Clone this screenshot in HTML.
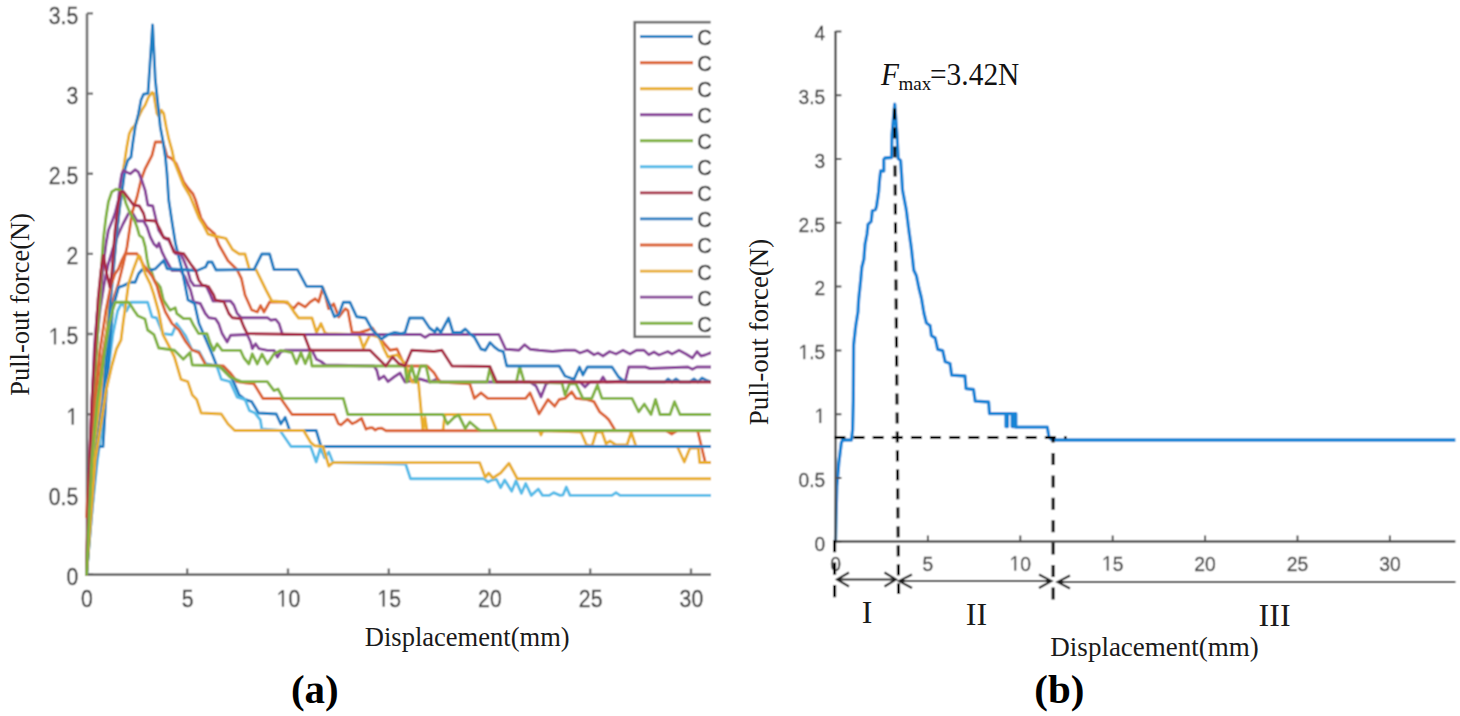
<!DOCTYPE html>
<html><head><meta charset="utf-8"><style>
html,body{margin:0;padding:0;background:#fff;}
svg{display:block;}
</style></head><body>
<svg width="1460" height="716" viewBox="0 0 1460 716">
<defs>
<filter id="soft" x="0" y="0" width="1460" height="716" filterUnits="userSpaceOnUse"><feConvolveMatrix order="3" kernelMatrix="1 2 1 2 4 2 1 2 1" divisor="16" edgeMode="duplicate" preserveAlpha="false"/></filter>
<clipPath id="clipL"><rect x="80" y="0" width="631" height="600"/></clipPath>
<clipPath id="clipLeg"><rect x="600" y="0" width="110.7" height="400"/></clipPath>
</defs>
<g filter="url(#soft)">
<rect width="1460" height="716" fill="#fff"/>
<path d="M87,13.5 V575 M86,574.6 H711" stroke="#6e6e6e" stroke-width="2.6" fill="none"/>
<path d="M87,574.5 h6 M87,494.4 h6 M87,414.2 h6 M87,334.0 h6 M87,253.9 h6 M87,173.8 h6 M87,93.6 h6 M87,13.4 h6 M86.5,574.5 v-6 M187.2,574.5 v-6 M288.0,574.5 v-6 M388.8,574.5 v-6 M489.5,574.5 v-6 M590.2,574.5 v-6 M691.0,574.5 v-6 " stroke="#6e6e6e" stroke-width="2.4" fill="none"/>
<g clip-path="url(#clipL)">
<polyline points="86.5,574.5 88.5,520.0 90.5,460.0 93.0,400.0 96.0,350.0 100.0,310.0 104.0,285.0 108.0,265.0 113.0,248.0 118.0,235.0 123.0,224.0 128.5,213.5 132.0,212.0 137.0,221.0 143.6,221.0 147.0,227.0 150.3,237.0 153.7,243.7 157.0,247.0 159.0,243.0 162.0,252.0 165.4,258.8 172.0,270.5 180.5,270.5 185.0,277.0 190.5,290.0 193.6,301.8 200.3,303.5 205.3,313.5 208.7,317.7 215.4,318.6 218.7,323.6 222.1,333.6 227.1,342.0 230.5,335.3 247.2,334.5 250.6,342.0 252.3,348.7 255.6,343.7 259.0,348.7 267.4,350.4 274.1,350.4 277.4,357.1 280.8,352.0 285.0,350.3 312.0,350.3 316.5,359.3 321.0,361.5 325.4,365.0 374.0,366.0 376.8,370.4 379.0,379.4 384.0,376.0 388.0,381.6 394.0,377.0 400.0,373.0 405.0,382.0 420.0,379.0 430.0,382.0 437.0,379.0 441.0,382.0 530.0,382.0 536.0,386.0 541.0,397.0 546.0,384.0 550.0,382.0 580.0,382.0 585.0,387.0 590.0,382.0 600.0,382.0 603.0,377.0 606.0,382.0 625.3,381.0 628.7,367.0 645.4,367.0 650.0,368.5 688.0,367.0 692.4,369.3 696.8,367.0 711.0,367.0" fill="none" stroke="#88439A" stroke-width="2.9" stroke-linejoin="round" stroke-linecap="round"/>
<polyline points="86.5,574.5 87.5,530.0 90.0,480.0 95.0,420.0 102.0,360.0 110.0,310.0 118.0,285.0 123.0,265.0 127.0,247.0 132.0,213.0 137.0,197.0 141.0,180.0 145.0,169.0 148.6,162.0 152.0,155.4 155.3,142.0 162.8,142.0 165.4,150.4 167.0,156.3 172.0,158.8 176.3,163.8 180.4,173.8 183.8,182.2 188.8,189.0 193.0,194.0 195.5,200.0 201.0,218.0 206.8,227.0 214.6,233.9 219.0,245.0 228.0,260.7 237.0,269.6 241.4,278.5 245.0,295.0 251.7,310.0 257.3,312.0 260.6,305.6 264.0,312.0 269.6,302.0 284.0,302.0 288.4,303.7 293.4,308.7 298.4,302.9 305.2,307.0 310.2,302.0 315.2,298.7 318.6,302.0 322.8,287.8 325.3,295.3 328.6,308.7 333.7,303.7 338.7,317.1 345.4,308.7 347.9,310.4 352.1,332.5 360.0,332.5 368.0,330.0 372.4,328.0 376.8,334.7 390.0,350.3 397.0,349.0 405.0,366.0 427.3,366.0 434.0,372.7 439.6,382.0 469.8,383.9 474.3,398.4 481.0,392.8 487.7,398.4 525.7,398.4 530.0,392.8 539.0,414.0 548.0,399.5 554.7,406.2 559.2,399.5 565.0,398.4 571.7,391.7 576.0,398.4 587.3,399.5 594.0,401.7 599.6,411.8 605.2,416.3 608.6,419.6 615.3,430.5 666.0,430.5 671.7,434.0 677.3,430.5 697.6,430.5 705.3,462.5 711.0,462.5" fill="none" stroke="#DC6430" stroke-width="2.9" stroke-linejoin="round" stroke-linecap="round"/>
<polyline points="86.5,574.5 91.0,500.0 96.0,440.0 101.0,390.0 106.0,340.0 111.0,290.0 115.0,250.0 118.0,220.0 121.0,195.0 122.6,173.8 124.3,163.8 126.8,147.0 129.3,133.6 131.8,128.6 135.2,125.2 138.5,116.9 141.9,110.0 145.2,105.0 148.6,96.8 152.0,92.6 153.6,93.4 157.0,113.5 158.7,116.0 161.2,110.2 163.7,113.5 166.2,127.0 168.7,138.7 172.0,150.4 174.4,162.0 183.3,184.7 190.0,196.0 194.5,207.0 199.0,218.0 203.4,225.0 208.0,234.0 214.6,236.0 225.8,238.3 232.5,249.5 239.2,254.0 245.0,254.0 249.5,269.6 256.0,269.6 266.0,290.0 271.8,301.0 287.5,302.0 294.0,312.0 298.6,318.0 312.0,318.0 316.5,332.5 321.0,323.5 325.0,333.0 327.7,333.6 359.0,334.7 363.4,348.0 370.0,334.7 379.0,337.0 383.5,348.0 388.0,357.0 397.0,354.8 405.0,363.7 412.0,382.0 418.4,382.0 422.9,430.5 425.0,417.4 427.0,430.5 443.0,430.5 445.0,414.5 490.0,414.5 496.6,430.5 539.0,430.5 541.0,435.0 543.0,430.5 581.0,432.0 586.5,445.0 592.0,446.0 596.3,432.0 602.0,432.0 606.0,443.7 610.0,441.0 616.0,445.0 627.0,445.0 631.2,432.0 636.0,446.5 677.3,446.5 684.3,462.0 690.0,448.0 698.3,448.0 699.7,462.5 711.0,462.5" fill="none" stroke="#E8AE2A" stroke-width="2.9" stroke-linejoin="round" stroke-linecap="round"/>
<polyline points="86.5,574.5 92.0,500.0 97.0,445.0 103.0,400.0 107.0,350.0 110.5,300.0 113.5,268.8 117.0,230.0 120.0,205.0 121.8,193.0 123.5,180.6 125.1,168.8 127.7,160.4 131.0,157.0 132.7,143.7 135.2,127.0 138.5,113.5 141.0,100.0 143.6,94.2 148.0,93.4 152.6,25.0 155.3,80.0 157.8,103.5 160.3,127.0 162.8,140.3 165.4,157.0 167.0,173.8 168.7,200.0 172.0,222.0 175.5,243.7 178.8,257.0 182.2,270.5 185.5,287.3 188.0,300.0 194.5,303.4 199.0,323.5 205.7,339.0 212.4,354.8 216.8,366.0 223.5,368.0 232.5,379.4 239.2,395.0 245.0,399.5 251.7,401.7 258.4,413.0 276.3,414.0 280.8,424.0 285.2,417.4 289.7,430.5 316.2,430.5 321.0,446.5 711.0,446.5" fill="none" stroke="#1A7EC2" stroke-width="2.9" stroke-linejoin="round" stroke-linecap="round"/>
<polyline points="86.5,574.5 86.9,556.0 88.0,520.0 89.5,460.0 92.0,400.0 94.5,345.0 97.4,311.0 100.0,300.0 103.4,263.8 106.0,243.7 108.4,230.3 112.6,220.0 115.0,213.5 118.4,200.0 120.1,184.0 121.8,173.8 123.5,170.5 126.8,172.2 130.2,173.8 135.2,169.7 138.5,172.2 141.9,180.6 145.2,190.6 147.8,205.0 152.8,206.0 155.4,217.0 158.7,230.3 162.0,235.3 165.4,238.7 168.8,240.3 172.0,247.0 175.5,253.7 180.5,253.7 183.8,260.4 187.2,268.8 190.5,280.6 194.0,285.6 206.2,285.9 210.4,295.0 212.9,301.0 230.5,301.0 233.8,305.0 237.2,313.5 241.4,317.7 267.4,317.7 270.7,320.2 275.7,319.4 279.1,323.6 282.5,334.5 420.6,334.5 425.0,337.4 429.6,334.5 498.9,334.5 505.6,349.2 519.0,350.3 524.5,344.7 530.0,349.2 539.0,350.3 552.5,351.5 565.0,350.3 575.0,350.3 580.0,353.0 587.3,350.3 594.0,354.8 598.0,353.0 603.0,356.0 609.7,351.5 616.0,354.0 623.0,350.3 630.0,354.0 636.5,350.3 644.0,350.3 648.8,354.8 654.0,352.0 659.0,355.0 667.8,351.5 672.0,354.0 679.0,350.3 686.0,354.0 692.4,358.0 697.0,351.5 701.0,356.0 705.0,355.0 711.0,352.6" fill="none" stroke="#88439A" stroke-width="2.9" stroke-linejoin="round" stroke-linecap="round"/>
<polyline points="86.5,574.5 88.5,520.0 90.5,470.0 93.0,420.0 96.0,360.0 98.5,320.0 100.0,300.0 101.7,263.8 103.4,238.7 106.0,216.9 108.4,201.8 111.8,191.7 116.0,189.2 120.2,190.0 123.5,195.0 126.0,203.5 130.2,213.5 134.4,220.2 137.0,227.0 139.4,235.3 142.8,237.8 145.3,247.0 147.0,258.8 148.7,267.0 151.2,270.5 154.5,280.6 157.9,284.0 160.4,287.3 163.4,300.0 170.1,310.2 175.2,307.7 176.8,313.5 183.5,318.6 190.2,318.6 193.6,325.3 198.6,333.6 207.0,333.6 210.4,343.7 213.7,350.4 217.1,343.7 222.1,350.4 240.5,350.4 244.0,358.0 248.9,364.0 252.3,353.8 257.3,364.0 262.0,354.0 267.4,364.0 274.1,353.8 280.8,350.4 292.0,352.6 296.4,363.7 300.9,352.6 305.3,363.7 309.8,352.6 312.0,366.0 405.0,366.0 407.0,382.0 411.7,366.0 416.0,382.0 420.6,366.0 426.0,366.0 429.6,382.0 487.0,382.0 490.0,367.5 494.0,382.0 516.4,382.0 519.7,366.5 524.2,382.0 562.0,383.0 565.0,395.0 569.5,383.9 576.0,383.9 582.9,398.4 591.8,398.4 597.4,385.0 601.9,398.4 632.0,398.4 638.7,411.8 644.3,404.0 651.0,414.5 655.5,399.5 660.0,414.5 670.0,414.5 674.5,401.7 680.0,414.5 711.0,414.5" fill="none" stroke="#80B240" stroke-width="2.9" stroke-linejoin="round" stroke-linecap="round"/>
<polyline points="86.5,574.5 92.0,510.0 97.4,460.0 104.0,412.0 108.6,367.0 113.0,333.6 117.6,311.0 122.0,302.2 126.5,311.0 131.0,302.2 147.6,302.2 152.0,316.8 156.5,318.0 163.0,333.6 172.0,334.7 176.6,323.5 185.6,335.8 192.0,350.0 199.0,351.5 205.7,363.7 216.8,366.0 221.3,379.4 230.0,381.6 237.0,397.0 245.0,399.5 249.5,410.7 255.0,413.0 260.4,420.0 261.8,429.0 280.0,430.5 291.0,446.5 310.6,446.5 316.2,462.0 320.4,448.0 324.6,457.7 328.8,452.0 333.0,462.5 405.6,464.0 410.5,478.7 483.8,478.7 488.0,482.0 492.0,480.0 496.4,479.4 500.6,487.7 504.7,480.0 511.7,491.2 516.0,480.8 521.5,493.3 525.7,483.5 531.3,495.4 538.3,489.0 542.5,495.4 549.4,495.4 553.6,492.6 560.0,495.4 563.0,495.0 566.3,487.0 570.0,495.4 612.0,495.4 616.0,492.6 620.0,495.4 711.0,495.4" fill="none" stroke="#55BCE8" stroke-width="2.9" stroke-linejoin="round" stroke-linecap="round"/>
<polyline points="86.5,574.5 92.0,510.0 96.0,460.0 98.5,446.6 103.0,446.6 106.4,389.5 109.7,344.8 113.0,305.0 115.0,300.0 118.5,287.3 123.5,285.6 130.2,282.2 135.2,282.2 138.6,273.8 142.0,269.7 148.7,270.5 155.4,268.8 160.4,263.8 163.7,260.4 167.1,268.8 197.3,270.5 205.6,267.0 208.0,262.0 212.0,262.0 216.0,270.0 245.0,269.6 254.0,269.6 261.8,254.0 269.6,254.0 274.0,269.6 297.5,269.6 306.5,286.4 322.0,286.4 330.0,305.6 334.4,316.8 338.9,314.6 343.3,302.3 350.0,302.3 356.7,316.8 365.7,318.0 372.4,330.0 381.3,339.0 388.0,334.7 394.7,332.5 401.4,333.6 405.0,332.5 409.5,318.0 422.9,318.0 429.6,328.0 435.0,332.0 437.0,328.0 440.8,332.5 448.6,318.0 453.0,332.5 460.9,332.5 465.3,329.0 469.8,333.6 474.3,337.0 481.0,349.0 485.4,350.3 490.0,342.5 494.4,347.0 498.9,350.3 503.3,351.5 506.7,366.0 559.2,366.0 565.0,376.0 574.0,379.4 579.5,367.0 582.9,375.0 587.3,367.0 612.0,367.0 618.6,377.0 623.0,380.5 627.6,382.0 665.0,382.0 668.0,379.0 672.0,382.0 676.0,379.0 680.0,382.0 690.0,382.0 694.0,379.0 698.0,382.0 702.0,378.0 706.0,380.0 711.0,382.0" fill="none" stroke="#1A7EC2" stroke-width="2.9" stroke-linejoin="round" stroke-linecap="round"/>
<polyline points="86.7,517.0 87.5,500.0 90.0,460.0 95.0,400.0 100.0,350.0 106.0,310.0 111.0,285.0 115.0,273.8 118.5,268.8 121.8,260.4 125.2,253.7 137.0,253.7 140.3,258.8 143.6,265.5 147.8,270.5 152.0,276.0 157.0,286.0 160.0,297.0 165.4,312.0 172.0,323.5 179.0,330.0 185.6,341.4 192.0,350.0 199.0,352.6 205.7,364.9 223.5,366.0 230.0,372.7 237.0,381.6 245.0,382.7 254.0,383.9 262.9,398.5 280.8,398.5 292.0,414.5 334.4,414.5 338.4,423.8 341.0,425.0 347.6,419.2 352.2,423.8 356.0,422.0 361.5,418.4 366.0,429.2 369.0,428.0 372.2,427.6 375.3,430.0 378.0,428.5 381.4,428.1 386.0,430.7 711.0,430.7" fill="none" stroke="#DC6430" stroke-width="2.9" stroke-linejoin="round" stroke-linecap="round"/>
<polyline points="86.5,574.5 90.0,530.0 95.2,460.0 100.8,425.0 106.4,389.5 112.0,365.0 116.5,349.0 121.0,340.0 123.2,322.4 125.4,306.7 128.5,284.0 133.6,268.8 138.6,255.4 140.3,257.0 145.3,273.8 150.3,284.0 153.7,294.0 158.7,312.0 163.0,334.7 170.0,348.0 174.4,357.0 181.0,379.4 187.8,381.6 192.3,395.0 196.7,399.5 201.2,413.0 221.3,414.0 228.0,424.0 234.7,430.5 303.6,430.5 310.6,442.3 314.8,445.8 323.0,446.5 328.8,466.0 333.0,462.6 479.6,462.6 485.2,477.3 488.7,473.0 492.9,478.0 500.6,473.0 509.0,463.3 517.3,478.7 711.0,478.7" fill="none" stroke="#E8AE2A" stroke-width="2.9" stroke-linejoin="round" stroke-linecap="round"/>
<polyline points="86.5,574.5 88.0,520.0 89.6,460.0 92.0,400.0 95.0,350.0 98.0,300.0 101.0,270.0 103.4,255.4 106.8,273.8 110.0,287.3 111.8,273.8 113.5,250.0 115.1,230.3 118.5,201.8 121.0,191.7 123.5,191.7 128.5,198.4 133.6,205.0 139.4,206.0 143.6,213.5 145.3,220.2 155.4,221.0 160.4,230.3 163.7,237.8 168.8,238.7 173.8,252.0 183.8,253.7 190.5,263.8 195.6,270.5 198.6,280.0 202.0,285.0 208.7,286.7 213.7,295.0 215.4,300.0 223.8,301.8 228.8,313.5 232.2,317.7 240.5,318.6 243.9,327.0 247.2,333.6 304.0,334.5 310.0,350.3 370.0,350.3 379.0,359.3 385.8,366.0 392.5,357.0 399.0,363.7 405.0,366.0 411.7,350.3 434.0,351.5 441.9,350.3 452.0,366.0 489.9,366.5 496.6,382.0 711.0,382.0" fill="none" stroke="#A82A44" stroke-width="2.9" stroke-linejoin="round" stroke-linecap="round"/>
<polyline points="86.5,574.5 89.0,520.0 91.8,460.0 97.4,400.7 104.0,356.0 108.6,327.0 113.0,309.0 115.3,302.2 128.8,302.2 134.4,311.0 137.7,315.7 145.0,319.0 147.6,330.0 154.0,334.7 158.7,348.0 174.4,350.3 183.3,359.3 190.0,352.6 192.3,365.0 219.0,366.0 230.0,377.0 241.4,381.6 267.3,381.6 274.0,390.6 278.0,389.0 283.0,398.4 343.3,398.4 347.8,414.5 443.0,414.5 447.5,424.0 454.0,417.4 458.6,415.0 465.3,428.5 469.8,422.0 478.7,429.7 481.0,430.5 711.0,430.5" fill="none" stroke="#80B240" stroke-width="2.9" stroke-linejoin="round" stroke-linecap="round"/>
</g>
<text transform="translate(66.41,584.80) scale(1,1.1)" font-family="Liberation Sans, sans-serif" font-size="21.2" fill="#404040" stroke="#404040" stroke-width="0.3">0</text>
<text transform="translate(48.73,504.65) scale(1,1.1)" font-family="Liberation Sans, sans-serif" font-size="21.2" fill="#404040" stroke="#404040" stroke-width="0.3">0</text>
<text transform="translate(60.52,504.65) scale(1,1.1)" font-family="Liberation Sans, sans-serif" font-size="21.2" fill="#404040" stroke="#404040" stroke-width="0.3">.</text>
<text transform="translate(66.41,504.65) scale(1,1.1)" font-family="Liberation Sans, sans-serif" font-size="21.2" fill="#404040" stroke="#404040" stroke-width="0.3">5</text>
<path d="M0.338,0 L0.338,-0.692 L0.255,-0.692 L0.094,-0.573 L0.094,-0.497 L0.255,-0.616 L0.255,0 Z" transform="translate(66.41,424.50) scale(21.200,23.320)" fill="#404040" stroke="#404040" stroke-width="0.3" vector-effect="non-scaling-stroke"/>
<path d="M0.338,0 L0.338,-0.692 L0.255,-0.692 L0.094,-0.573 L0.094,-0.497 L0.255,-0.616 L0.255,0 Z" transform="translate(48.73,344.35) scale(21.200,23.320)" fill="#404040" stroke="#404040" stroke-width="0.3" vector-effect="non-scaling-stroke"/>
<text transform="translate(60.52,344.35) scale(1,1.1)" font-family="Liberation Sans, sans-serif" font-size="21.2" fill="#404040" stroke="#404040" stroke-width="0.3">.</text>
<text transform="translate(66.41,344.35) scale(1,1.1)" font-family="Liberation Sans, sans-serif" font-size="21.2" fill="#404040" stroke="#404040" stroke-width="0.3">5</text>
<text transform="translate(66.41,264.20) scale(1,1.1)" font-family="Liberation Sans, sans-serif" font-size="21.2" fill="#404040" stroke="#404040" stroke-width="0.3">2</text>
<text transform="translate(48.73,184.05) scale(1,1.1)" font-family="Liberation Sans, sans-serif" font-size="21.2" fill="#404040" stroke="#404040" stroke-width="0.3">2</text>
<text transform="translate(60.52,184.05) scale(1,1.1)" font-family="Liberation Sans, sans-serif" font-size="21.2" fill="#404040" stroke="#404040" stroke-width="0.3">.</text>
<text transform="translate(66.41,184.05) scale(1,1.1)" font-family="Liberation Sans, sans-serif" font-size="21.2" fill="#404040" stroke="#404040" stroke-width="0.3">5</text>
<text transform="translate(66.41,103.90) scale(1,1.1)" font-family="Liberation Sans, sans-serif" font-size="21.2" fill="#404040" stroke="#404040" stroke-width="0.3">3</text>
<text transform="translate(48.73,23.75) scale(1,1.1)" font-family="Liberation Sans, sans-serif" font-size="21.2" fill="#404040" stroke="#404040" stroke-width="0.3">3</text>
<text transform="translate(60.52,23.75) scale(1,1.1)" font-family="Liberation Sans, sans-serif" font-size="21.2" fill="#404040" stroke="#404040" stroke-width="0.3">.</text>
<text transform="translate(66.41,23.75) scale(1,1.1)" font-family="Liberation Sans, sans-serif" font-size="21.2" fill="#404040" stroke="#404040" stroke-width="0.3">5</text>
<text transform="translate(81.01,606.50) scale(1,1.1)" font-family="Liberation Sans, sans-serif" font-size="21.2" fill="#404040" stroke="#404040" stroke-width="0.3">0</text>
<text transform="translate(181.76,606.50) scale(1,1.1)" font-family="Liberation Sans, sans-serif" font-size="21.2" fill="#404040" stroke="#404040" stroke-width="0.3">5</text>
<path d="M0.338,0 L0.338,-0.692 L0.255,-0.692 L0.094,-0.573 L0.094,-0.497 L0.255,-0.616 L0.255,0 Z" transform="translate(276.61,606.50) scale(21.200,23.320)" fill="#404040" stroke="#404040" stroke-width="0.3" vector-effect="non-scaling-stroke"/>
<text transform="translate(288.40,606.50) scale(1,1.1)" font-family="Liberation Sans, sans-serif" font-size="21.2" fill="#404040" stroke="#404040" stroke-width="0.3">0</text>
<path d="M0.338,0 L0.338,-0.692 L0.255,-0.692 L0.094,-0.573 L0.094,-0.497 L0.255,-0.616 L0.255,0 Z" transform="translate(377.36,606.50) scale(21.200,23.320)" fill="#404040" stroke="#404040" stroke-width="0.3" vector-effect="non-scaling-stroke"/>
<text transform="translate(389.15,606.50) scale(1,1.1)" font-family="Liberation Sans, sans-serif" font-size="21.2" fill="#404040" stroke="#404040" stroke-width="0.3">5</text>
<text transform="translate(478.11,606.50) scale(1,1.1)" font-family="Liberation Sans, sans-serif" font-size="21.2" fill="#404040" stroke="#404040" stroke-width="0.3">2</text>
<text transform="translate(489.90,606.50) scale(1,1.1)" font-family="Liberation Sans, sans-serif" font-size="21.2" fill="#404040" stroke="#404040" stroke-width="0.3">0</text>
<text transform="translate(578.86,606.50) scale(1,1.1)" font-family="Liberation Sans, sans-serif" font-size="21.2" fill="#404040" stroke="#404040" stroke-width="0.3">2</text>
<text transform="translate(590.65,606.50) scale(1,1.1)" font-family="Liberation Sans, sans-serif" font-size="21.2" fill="#404040" stroke="#404040" stroke-width="0.3">5</text>
<text transform="translate(679.61,606.50) scale(1,1.1)" font-family="Liberation Sans, sans-serif" font-size="21.2" fill="#404040" stroke="#404040" stroke-width="0.3">3</text>
<text transform="translate(691.40,606.50) scale(1,1.1)" font-family="Liberation Sans, sans-serif" font-size="21.2" fill="#404040" stroke="#404040" stroke-width="0.3">0</text>
<g clip-path="url(#clipLeg)">
<rect x="634.7" y="22.2" width="120" height="314.6" fill="#fff" stroke="#6e6e6e" stroke-width="2.6"/>
<line x1="640" y1="36.6" x2="693" y2="36.6" stroke="#1A7EC2" stroke-width="2.9"/>
<text transform="translate(697.3,45.0) scale(1,1.07)" font-family="Liberation Sans, sans-serif" font-size="20.5" fill="#333" stroke="#4a4a4a" stroke-width="0.45">C</text>
<line x1="640" y1="62.7" x2="693" y2="62.7" stroke="#DC6430" stroke-width="2.9"/>
<text transform="translate(697.3,71.1) scale(1,1.07)" font-family="Liberation Sans, sans-serif" font-size="20.5" fill="#333" stroke="#4a4a4a" stroke-width="0.45">C</text>
<line x1="640" y1="88.7" x2="693" y2="88.7" stroke="#E8AE2A" stroke-width="2.9"/>
<text transform="translate(697.3,97.2) scale(1,1.07)" font-family="Liberation Sans, sans-serif" font-size="20.5" fill="#333" stroke="#4a4a4a" stroke-width="0.45">C</text>
<line x1="640" y1="114.8" x2="693" y2="114.8" stroke="#88439A" stroke-width="2.9"/>
<text transform="translate(697.3,123.2) scale(1,1.07)" font-family="Liberation Sans, sans-serif" font-size="20.5" fill="#333" stroke="#4a4a4a" stroke-width="0.45">C</text>
<line x1="640" y1="140.8" x2="693" y2="140.8" stroke="#80B240" stroke-width="2.9"/>
<text transform="translate(697.3,149.2) scale(1,1.07)" font-family="Liberation Sans, sans-serif" font-size="20.5" fill="#333" stroke="#4a4a4a" stroke-width="0.45">C</text>
<line x1="640" y1="166.8" x2="693" y2="166.8" stroke="#55BCE8" stroke-width="2.9"/>
<text transform="translate(697.3,175.3) scale(1,1.07)" font-family="Liberation Sans, sans-serif" font-size="20.5" fill="#333" stroke="#4a4a4a" stroke-width="0.45">C</text>
<line x1="640" y1="192.9" x2="693" y2="192.9" stroke="#A82A44" stroke-width="2.9"/>
<text transform="translate(697.3,201.3) scale(1,1.07)" font-family="Liberation Sans, sans-serif" font-size="20.5" fill="#333" stroke="#4a4a4a" stroke-width="0.45">C</text>
<line x1="640" y1="218.9" x2="693" y2="218.9" stroke="#1A7EC2" stroke-width="2.9"/>
<text transform="translate(697.3,227.4) scale(1,1.07)" font-family="Liberation Sans, sans-serif" font-size="20.5" fill="#333" stroke="#4a4a4a" stroke-width="0.45">C</text>
<line x1="640" y1="245.0" x2="693" y2="245.0" stroke="#DC6430" stroke-width="2.9"/>
<text transform="translate(697.3,253.4) scale(1,1.07)" font-family="Liberation Sans, sans-serif" font-size="20.5" fill="#333" stroke="#4a4a4a" stroke-width="0.45">C</text>
<line x1="640" y1="271.1" x2="693" y2="271.1" stroke="#E8AE2A" stroke-width="2.9"/>
<text transform="translate(697.3,279.5) scale(1,1.07)" font-family="Liberation Sans, sans-serif" font-size="20.5" fill="#333" stroke="#4a4a4a" stroke-width="0.45">C</text>
<line x1="640" y1="297.1" x2="693" y2="297.1" stroke="#88439A" stroke-width="2.9"/>
<text transform="translate(697.3,305.6) scale(1,1.07)" font-family="Liberation Sans, sans-serif" font-size="20.5" fill="#333" stroke="#4a4a4a" stroke-width="0.45">C</text>
<line x1="640" y1="323.2" x2="693" y2="323.2" stroke="#80B240" stroke-width="2.9"/>
<text transform="translate(697.3,331.6) scale(1,1.07)" font-family="Liberation Sans, sans-serif" font-size="20.5" fill="#333" stroke="#4a4a4a" stroke-width="0.45">C</text>
</g>
<polyline points="835.5,541.5 836.0,518.0 836.8,486.0 838.8,463.0 841.3,443.0 842.6,440.0 851.4,440.0 852.6,430.0 853.3,400.0 853.6,345.0 855.7,326.0 858.0,311.5 858.6,300.0 860.7,280.0 861.8,267.5 863.9,259.0 865.0,244.4 867.0,234.0 868.0,224.5 871.2,221.3 872.3,210.8 875.4,209.8 876.5,206.6 878.6,192.0 879.6,179.4 880.7,171.0 883.8,171.0 883.8,159.4 884.9,158.0 891.5,157.5 892.0,135.0 894.7,104.2 897.0,135.0 898.2,158.5 900.6,160.5 901.6,175.2 902.5,190.0 906.3,210.0 908.8,230.0 911.3,247.7 913.8,270.3 916.3,275.4 918.9,288.0 921.4,298.0 923.9,313.0 926.4,323.0 930.1,325.6 931.4,335.6 935.2,338.0 937.7,349.4 942.7,350.7 945.2,361.8 950.0,363.5 951.7,375.2 965.0,376.0 966.0,388.6 973.5,389.5 975.2,401.2 988.6,402.0 989.5,413.6 1006.0,413.6 1006.0,426.5 1007.4,426.5 1007.4,413.6 1012.2,413.6 1012.2,426.5 1014.0,426.5 1014.0,413.6 1015.8,413.6 1015.8,427.2 1047.3,427.2 1049.0,437.2 1052.3,440.0 1455.4,440.0" fill="none" stroke="#1583D5" stroke-width="3.3" stroke-linejoin="round"/>
<path d="M835.5,31 V542.5 M834.5,541.45 H1455.4" stroke="#505050" stroke-width="2.4" fill="none"/>
<path d="M835.5,541.8 h5.9 M835.5,478.0 h5.9 M835.5,414.2 h5.9 M835.5,350.4 h5.9 M835.5,286.6 h5.9 M835.5,222.8 h5.9 M835.5,159.0 h5.9 M835.5,95.2 h5.9 M835.5,31.4 h5.9 M927.9,541.5 v-6 M1020.3,541.5 v-6 M1112.7,541.5 v-6 M1205.1,541.5 v-6 M1297.5,541.5 v-6 M1389.9,541.5 v-6 " stroke="#505050" stroke-width="2" fill="none"/>
<text transform="translate(814.62,550.50) scale(1,1.07)" font-family="Liberation Sans, sans-serif" font-size="19.2" fill="#404040" stroke="#404040" stroke-width="0.3">0</text>
<text transform="translate(798.61,486.70) scale(1,1.07)" font-family="Liberation Sans, sans-serif" font-size="19.2" fill="#404040" stroke="#404040" stroke-width="0.3">0</text>
<text transform="translate(809.29,486.70) scale(1,1.07)" font-family="Liberation Sans, sans-serif" font-size="19.2" fill="#404040" stroke="#404040" stroke-width="0.3">.</text>
<text transform="translate(814.62,486.70) scale(1,1.07)" font-family="Liberation Sans, sans-serif" font-size="19.2" fill="#404040" stroke="#404040" stroke-width="0.3">5</text>
<path d="M0.338,0 L0.338,-0.692 L0.255,-0.692 L0.094,-0.573 L0.094,-0.497 L0.255,-0.616 L0.255,0 Z" transform="translate(814.62,422.90) scale(19.200,20.544)" fill="#404040" stroke="#404040" stroke-width="0.3" vector-effect="non-scaling-stroke"/>
<path d="M0.338,0 L0.338,-0.692 L0.255,-0.692 L0.094,-0.573 L0.094,-0.497 L0.255,-0.616 L0.255,0 Z" transform="translate(798.61,359.10) scale(19.200,20.544)" fill="#404040" stroke="#404040" stroke-width="0.3" vector-effect="non-scaling-stroke"/>
<text transform="translate(809.29,359.10) scale(1,1.07)" font-family="Liberation Sans, sans-serif" font-size="19.2" fill="#404040" stroke="#404040" stroke-width="0.3">.</text>
<text transform="translate(814.62,359.10) scale(1,1.07)" font-family="Liberation Sans, sans-serif" font-size="19.2" fill="#404040" stroke="#404040" stroke-width="0.3">5</text>
<text transform="translate(814.62,295.30) scale(1,1.07)" font-family="Liberation Sans, sans-serif" font-size="19.2" fill="#404040" stroke="#404040" stroke-width="0.3">2</text>
<text transform="translate(798.61,231.50) scale(1,1.07)" font-family="Liberation Sans, sans-serif" font-size="19.2" fill="#404040" stroke="#404040" stroke-width="0.3">2</text>
<text transform="translate(809.29,231.50) scale(1,1.07)" font-family="Liberation Sans, sans-serif" font-size="19.2" fill="#404040" stroke="#404040" stroke-width="0.3">.</text>
<text transform="translate(814.62,231.50) scale(1,1.07)" font-family="Liberation Sans, sans-serif" font-size="19.2" fill="#404040" stroke="#404040" stroke-width="0.3">5</text>
<text transform="translate(814.62,167.70) scale(1,1.07)" font-family="Liberation Sans, sans-serif" font-size="19.2" fill="#404040" stroke="#404040" stroke-width="0.3">3</text>
<text transform="translate(798.61,103.90) scale(1,1.07)" font-family="Liberation Sans, sans-serif" font-size="19.2" fill="#404040" stroke="#404040" stroke-width="0.3">3</text>
<text transform="translate(809.29,103.90) scale(1,1.07)" font-family="Liberation Sans, sans-serif" font-size="19.2" fill="#404040" stroke="#404040" stroke-width="0.3">.</text>
<text transform="translate(814.62,103.90) scale(1,1.07)" font-family="Liberation Sans, sans-serif" font-size="19.2" fill="#404040" stroke="#404040" stroke-width="0.3">5</text>
<text transform="translate(814.62,40.10) scale(1,1.07)" font-family="Liberation Sans, sans-serif" font-size="19.2" fill="#404040" stroke="#404040" stroke-width="0.3">4</text>
<text transform="translate(830.13,570.50) scale(1,1.07)" font-family="Liberation Sans, sans-serif" font-size="19.3" fill="#404040" stroke="#404040" stroke-width="0.3">0</text>
<text transform="translate(922.53,570.50) scale(1,1.07)" font-family="Liberation Sans, sans-serif" font-size="19.3" fill="#404040" stroke="#404040" stroke-width="0.3">5</text>
<path d="M0.338,0 L0.338,-0.692 L0.255,-0.692 L0.094,-0.573 L0.094,-0.497 L0.255,-0.616 L0.255,0 Z" transform="translate(1009.57,570.50) scale(19.300,20.651)" fill="#404040" stroke="#404040" stroke-width="0.3" vector-effect="non-scaling-stroke"/>
<text transform="translate(1020.30,570.50) scale(1,1.07)" font-family="Liberation Sans, sans-serif" font-size="19.3" fill="#404040" stroke="#404040" stroke-width="0.3">0</text>
<path d="M0.338,0 L0.338,-0.692 L0.255,-0.692 L0.094,-0.573 L0.094,-0.497 L0.255,-0.616 L0.255,0 Z" transform="translate(1101.97,570.50) scale(19.300,20.651)" fill="#404040" stroke="#404040" stroke-width="0.3" vector-effect="non-scaling-stroke"/>
<text transform="translate(1112.70,570.50) scale(1,1.07)" font-family="Liberation Sans, sans-serif" font-size="19.3" fill="#404040" stroke="#404040" stroke-width="0.3">5</text>
<text transform="translate(1194.37,570.50) scale(1,1.07)" font-family="Liberation Sans, sans-serif" font-size="19.3" fill="#404040" stroke="#404040" stroke-width="0.3">2</text>
<text transform="translate(1205.10,570.50) scale(1,1.07)" font-family="Liberation Sans, sans-serif" font-size="19.3" fill="#404040" stroke="#404040" stroke-width="0.3">0</text>
<text transform="translate(1286.77,570.50) scale(1,1.07)" font-family="Liberation Sans, sans-serif" font-size="19.3" fill="#404040" stroke="#404040" stroke-width="0.3">2</text>
<text transform="translate(1297.50,570.50) scale(1,1.07)" font-family="Liberation Sans, sans-serif" font-size="19.3" fill="#404040" stroke="#404040" stroke-width="0.3">5</text>
<text transform="translate(1379.17,570.50) scale(1,1.07)" font-family="Liberation Sans, sans-serif" font-size="19.3" fill="#404040" stroke="#404040" stroke-width="0.3">3</text>
<text transform="translate(1389.90,570.50) scale(1,1.07)" font-family="Liberation Sans, sans-serif" font-size="19.3" fill="#404040" stroke="#404040" stroke-width="0.3">0</text>
<path d="M834.4,437.5 H1066.6" stroke="#000" stroke-width="3.1" fill="none" stroke-dasharray="11 8.13"/>
<path d="M894.5,108.4 L898.6,594" stroke="#000" stroke-width="3.1" fill="none" stroke-dasharray="11 8"/>
<path d="M834.6,540 V597.6" stroke="#000" stroke-width="3.1" fill="none" stroke-dasharray="12.2 10.3"/>
<path d="M1053.1,437 V602" stroke="#000" stroke-width="3.1" fill="none" stroke-dasharray="12 10.4" stroke-dashoffset="6.4"/>
<path d="M837,579.5 H896 M849,572.5 L837,579.5 L849,586.5 M884.5,572.5 L896,579.5 L884.5,586.5" stroke="#1a1a1a" stroke-width="2.2" fill="none"/>
<path d="M899,581 H1051.4 M912,574.5 L899,581 L912,588 M1039,574.5 L1051.4,581 L1039,588" stroke="#1a1a1a" stroke-width="2.2" fill="none"/>
<path d="M1057.6,582 H1455.4 M1070,575.5 L1057.6,582 L1070,588.5" stroke="#1a1a1a" stroke-width="2.2" fill="none"/>
</g>
<text transform="translate(29,304.4) rotate(-90) scale(0.978,1)" font-family="Liberation Serif, serif" font-size="27" fill="#1a1a1a" text-anchor="middle">Pull-out force(N)</text>
<text transform="translate(467.2,646) scale(0.948,1)" font-family="Liberation Serif, serif" font-size="28" fill="#1a1a1a" text-anchor="middle">Displacement(mm)</text>
<text x="314.8" y="703.3" font-family="Liberation Serif, serif" font-size="41" font-weight="bold" fill="#000" text-anchor="middle">(a)</text>
<text transform="translate(768.3,332) rotate(-90)" font-family="Liberation Serif, serif" font-size="27" fill="#1a1a1a" text-anchor="middle">Pull-out force(N)</text>
<text transform="translate(1154.6,655.5) scale(0.982,1)" font-family="Liberation Serif, serif" font-size="27.5" fill="#1a1a1a" text-anchor="middle">Displacement(mm)</text>
<text x="1059.4" y="703.3" font-family="Liberation Serif, serif" font-size="41" font-weight="bold" fill="#000" text-anchor="middle">(b)</text>
<text transform="translate(881,84.8) scale(0.92,1)" font-family="Liberation Serif, serif" font-size="32" font-style="italic" fill="#111">F</text>
<text x="898.5" y="89.5" font-family="Liberation Serif, serif" font-size="19" fill="#111">max</text>
<text transform="translate(930,84.8) scale(0.92,1)" font-family="Liberation Serif, serif" font-size="32" fill="#111">=3.42N</text>
<text x="867" y="622.7" font-family="Liberation Serif, serif" font-size="32" fill="#1a1a1a" text-anchor="middle">I</text>
<text x="976.5" y="624.6" font-family="Liberation Serif, serif" font-size="32" fill="#1a1a1a" text-anchor="middle">II</text>
<text x="1274.6" y="626.4" font-family="Liberation Serif, serif" font-size="32" fill="#1a1a1a" text-anchor="middle">III</text>
</svg>
</body></html>
